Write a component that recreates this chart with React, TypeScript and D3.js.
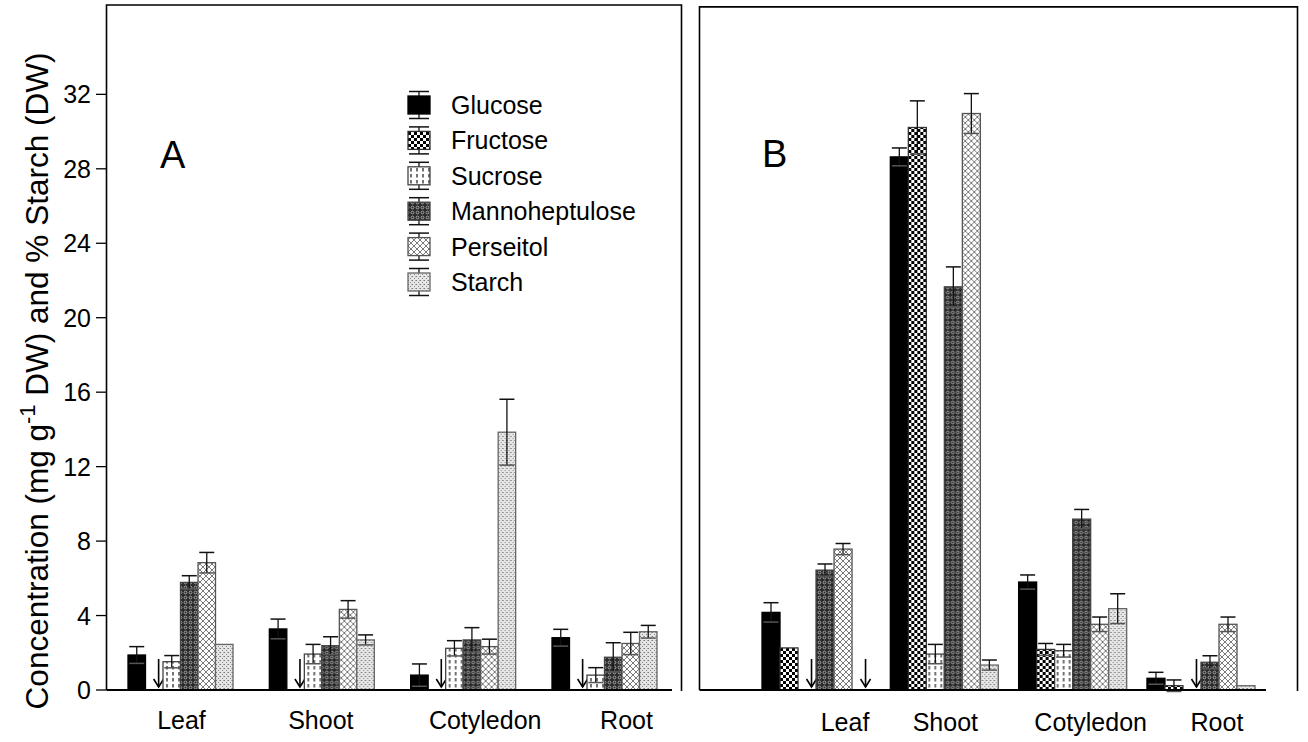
import React from "react";
import * as d3 from "d3";

// ---------- data ----------
const categories = ["Leaf", "Shoot", "Cotyledon", "Root"];
const seriesNames = ["Glucose", "Fructose", "Sucrose", "Mannoheptulose", "Perseitol", "Starch"];
const yTicks = [0, 4, 8, 12, 16, 20, 24, 28, 32];

// Panel A (null = not detected, drawn as arrow)
const glucoseA = [1.88, 3.28, 0.8, 2.81];
const glucoseErrA = [0.45, 0.53, 0.6, 0.45];
const fructoseA = [null, null, null, null];
const fructoseErrA = [0, 0, 0, 0];
const sucroseA = [1.52, 1.93, 2.24, 0.8];
const sucroseErrA = [0.33, 0.52, 0.41, 0.4];
const mannoA = [5.78, 2.38, 2.69, 1.76];
const mannoErrA = [0.36, 0.48, 0.66, 0.78];
const perseitolA = [6.84, 4.33, 2.33, 2.5];
const perseitolErrA = [0.55, 0.47, 0.4, 0.6];
const starchA = [2.45, 2.69, 13.85, 3.13];
const starchErrA = [0, 0.27, 1.77, 0.34];

// Panel B
const glucoseB = [4.17, 28.64, 5.8, 0.63];
const glucoseErrB = [0.52, 0.48, 0.38, 0.32];
const fructoseB = [2.26, 30.22, 2.18, 0.23];
const fructoseErrB = [0, 1.43, 0.32, 0.31];
const sucroseB = [null, 1.93, 2.11, null];
const sucroseErrB = [0, 0.52, 0.34, 0];
const mannoB = [6.44, 21.66, 9.18, 1.49];
const mannoErrB = [0.33, 1.07, 0.52, 0.35];
const perseitolB = [7.57, 30.97, 3.53, 3.53];
const perseitolErrB = [0.3, 1.07, 0.39, 0.39];
const starchB = [null, 1.34, 4.37, 0.23];
const starchErrB = [0, 0.27, 0.8, 0];

const valuesA = [glucoseA, fructoseA, sucroseA, mannoA, perseitolA, starchA];
const errorsA = [glucoseErrA, fructoseErrA, sucroseErrA, mannoErrA, perseitolErrA, starchErrA];
const valuesB = [glucoseB, fructoseB, sucroseB, mannoB, perseitolB, starchB];
const errorsB = [glucoseErrB, fructoseErrB, sucroseErrB, mannoErrB, perseitolErrB, starchErrB];

// ---------- layout / style ----------
const W = 1308;
const H = 742;
const FONT = "'Liberation Sans', Arial, Helvetica, sans-serif";
const fills = ["#000", "url(#pFru)", "url(#pSuc)", "url(#pMan)", "url(#pPer)", "url(#pSta)"];
const strokes = ["#000", "#333", "#444", "#444", "#555", "#666"];
const labelNudgeA = [1, -1, 22, 22];
const labelNudgeB = [29, 1, 18, 16];

const y = d3.scaleLinear().domain([0, 36.8]).range([690, 5]);

const panelA = {
  left: 106.5,
  right: 681.5,
  top: y(36.8),
  x0: d3.scaleBand().domain(categories).range([128, 657]).paddingInner(0.257).paddingOuter(0),
  values: valuesA,
  errors: errorsA,
  nudge: labelNudgeA,
  labelY: 729,
  baseEnd: 672,
  letter: "A",
  letterX: 160,
  letterY: 168,
};
const panelB = {
  left: 699.5,
  right: 1297.5,
  top: y(36.7),
  x0: d3.scaleBand().domain(categories).range([762, 1255]).paddingInner(0.158).paddingOuter(0),
  values: valuesB,
  errors: errorsB,
  nudge: labelNudgeB,
  labelY: 731,
  baseEnd: 1266,
  letter: "B",
  letterX: 762,
  letterY: 167,
};

function Patterns() {
  return (
    <defs>
      <pattern id="pFru" width="6" height="6" patternUnits="userSpaceOnUse">
        <rect width="6" height="6" fill="#fff" />
        <rect x="0" y="0" width="3" height="3" fill="#000" />
        <rect x="3" y="3" width="3" height="3" fill="#000" />
      </pattern>
      <pattern id="pSuc" width="6" height="6" patternUnits="userSpaceOnUse">
        <rect width="6" height="6" fill="#fff" />
        <line x1="3" y1="0" x2="3" y2="3.5" stroke="#000" strokeWidth="1.1" />
      </pattern>
      <pattern id="pMan" width="5" height="5" patternUnits="userSpaceOnUse">
        <rect width="5" height="5" fill="#2a2a2a" />
        <circle cx="2.5" cy="2.5" r="1.4" fill="none" stroke="#b0b0b0" strokeWidth="0.9" />
      </pattern>
      <pattern id="pPer" width="6" height="6" patternUnits="userSpaceOnUse">
        <rect width="6" height="6" fill="#fff" />
        <path d="M0,0 L6,6 M6,0 L0,6" stroke="#6a6a6a" strokeWidth="0.9" />
      </pattern>
      <pattern id="pSta" width="4" height="4" patternUnits="userSpaceOnUse">
        <rect width="4" height="4" fill="#e6e6e6" />
        <rect x="0" y="0" width="1" height="1" fill="#777" />
        <rect x="2" y="2" width="1" height="1" fill="#888" />
        <rect x="3" y="0" width="1" height="1" fill="#aaa" />
      </pattern>
    </defs>
  );
}

function Arrow({ x }: { x: number }) {
  const y1 = y(0) - 31;
  const y2 = y(0) - 3;
  return (
    <g stroke="#000" strokeWidth={1.6} fill="none">
      <line x1={x} y1={y1} x2={x} y2={y2} />
      <path d={`M${x - 5},${y2 - 8} L${x},${y2} L${x + 5},${y2 - 8}`} />
    </g>
  );
}

function Panel({ p }: { p: typeof panelA }) {
  const x1 = d3.scaleBand().domain(seriesNames).range([0, p.x0.bandwidth()]).padding(0);
  const bw = x1.bandwidth();
  return (
    <g>
      {categories.map((c, ci) => (
        <g key={c} transform={`translate(${p.x0(c)},0)`}>
          {seriesNames.map((s, si) => {
            const v = p.values[si][ci];
            const e = p.errors[si][ci];
            const bx = x1(s)!;
            if (v === null) return <Arrow key={s} x={bx + bw * 0.75} />;
            const cx = bx + bw / 2;
            return (
              <g key={s}>
                <rect
                  x={bx}
                  y={y(v)}
                  width={bw}
                  height={y(0) - y(v)}
                  fill={fills[si]}
                  stroke={strokes[si]}
                  strokeWidth={1.3}
                />
                {e > 0 && (
                  <g>
                    <line x1={cx} x2={cx} y1={y(v + e)} y2={y(v - e)} stroke="#111" strokeWidth={1.3} />
                    <line x1={cx - 7.5} x2={cx + 7.5} y1={y(v + e)} y2={y(v + e)} stroke="#111" strokeWidth={1.5} />
                    <line x1={cx - 7.5} x2={cx + 7.5} y1={y(v - e)} y2={y(v - e)} stroke="#555" strokeWidth={1.5} />
                  </g>
                )}
              </g>
            );
          })}
        </g>
      ))}
      {/* frame */}
      <path
        d={`M${p.left},${y(0)} L${p.left},${p.top} L${p.right},${p.top} L${p.right},${y(0) + 1}`}
        fill="none"
        stroke="#000"
        strokeWidth={1.6}
      />
      <line x1={p.left} x2={p.baseEnd} y1={y(0)} y2={y(0)} stroke="#000" strokeWidth={2} />
      {categories.map((c, ci) => (
        <text
          key={c}
          x={p.x0(c)! + p.x0.bandwidth() / 2 + p.nudge[ci]}
          y={p.labelY}
          fontSize={25}
          textAnchor="middle"
          fontFamily={FONT}
        >
          {c}
        </text>
      ))}
      <text x={p.letterX} y={p.letterY} fontSize={38} fontFamily={FONT}>
        {p.letter}
      </text>
    </g>
  );
}

function Legend() {
  const rowY = d3.scalePoint().domain(seriesNames).range([105, 282]);
  return (
    <g>
      {seriesNames.map((s, si) => {
        const cy = rowY(s)!;
        const cx = 419;
        return (
          <g key={s}>
            <line x1={cx} x2={cx} y1={cy - 13.5} y2={cy + 13.5} stroke="#111" strokeWidth={1.3} />
            <line x1={cx - 10} x2={cx + 10} y1={cy - 13.5} y2={cy - 13.5} stroke="#111" strokeWidth={1.5} />
            <line x1={cx - 10} x2={cx + 10} y1={cy + 13.5} y2={cy + 13.5} stroke="#111" strokeWidth={1.5} />
            <rect x={cx - 11} y={cy - 9} width={22} height={18} fill={fills[si]} stroke={strokes[si]} strokeWidth={1.3} />
            <text x={451} y={cy} dy="0.36em" fontSize={25} fontFamily={FONT}>
              {s}
            </text>
          </g>
        );
      })}
    </g>
  );
}

export default function App() {
  return (
    <svg
      width={W}
      height={H}
      viewBox={`0 0 ${W} ${H}`}
      style={{ position: "absolute", left: 0, top: 0, background: "#fff" }}
    >
      <Patterns />
      <rect width={W} height={H} fill="#fff" />
      <Panel p={panelA} />
      <Panel p={panelB} />
      {/* y axis ticks */}
      {yTicks.map((t) => (
        <g key={t}>
          <line x1={96} x2={106.5} y1={y(t)} y2={y(t)} stroke="#000" strokeWidth={1.3} />
          <text x={91} y={y(t)} dy="0.36em" fontSize={25} textAnchor="end" fontFamily={FONT}>
            {t}
          </text>
        </g>
      ))}
      <text
        transform={`translate(48,381) rotate(-90)`}
        fontSize={31.5}
        textAnchor="middle"
        fontFamily={FONT}
      >
        Concentration (mg g
        <tspan fontSize={22} dy={-13}>
          -1
        </tspan>
        <tspan dy={13}> DW) and % Starch (DW)</tspan>
      </text>
      <Legend />
    </svg>
  );
}
